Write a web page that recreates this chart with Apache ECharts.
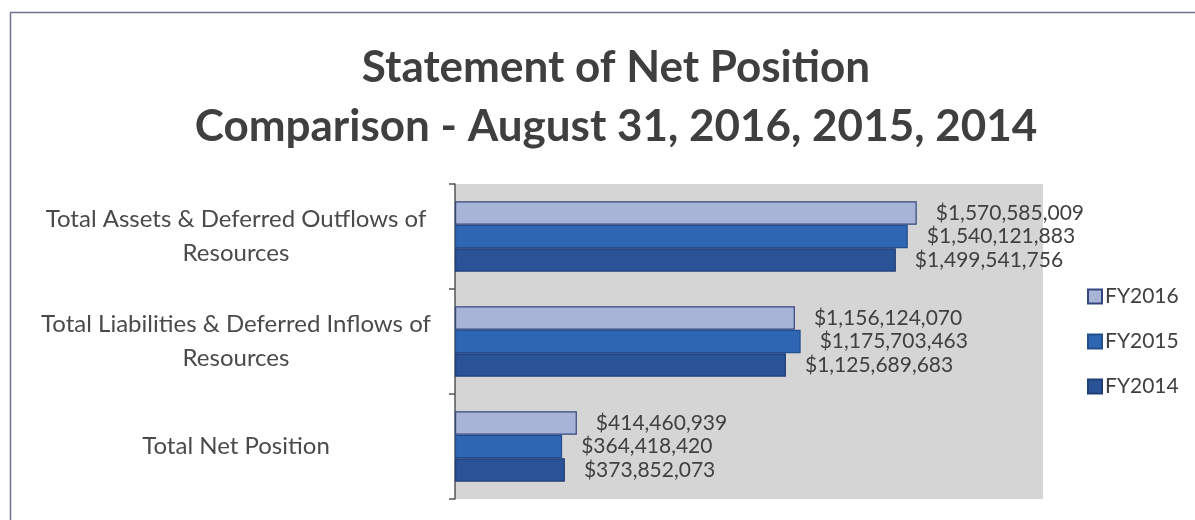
<!DOCTYPE html>
<html>
<head>
<meta charset="utf-8">
<script src="https://cdn.jsdelivr.net/npm/echarts@6/dist/echarts.min.js"></script>
<style>
  html, body { margin: 0; padding: 0; background: #ffffff; }
  #chart { width: 1195px; height: 520px; }
</style>
</head>
<body>
<div id="chart"></div>
<script>
// Statement of Net Position, three fiscal years
const categories = [
  'Total Assets & Deferred Outflows of\nResources',
  'Total Liabilities & Deferred Inflows of\nResources',
  'Total Net Position'
];
const seriesNames = ['FY2016', 'FY2015', 'FY2014'];
const fy2016 = [1570585009, 1156124070, 414460939];
const fy2015 = [1540121883, 1175703463, 364418420];
const fy2014 = [1499541756, 1125689683, 373852073];
const seriesValues = [fy2016, fy2015, fy2014];

const fills = ['#a8b3d8', '#2f66b3', '#2a5296'];
const borders = ['#34467e', '#234f8f', '#1f3f78'];

const font = 'Lato, "Open Sans", sans-serif';
const money = v => '$' + Number(v).toLocaleString('en-US');

const chart = echarts.init(document.getElementById('chart'), null, { renderer: 'canvas' });

chart.setOption({
  animation: false,
  backgroundColor: '#ffffff',
  title: {
    text: 'Statement of Net Position\nComparison - August 31, 2016, 2015, 2014',
    left: 611,
    textAlign: 'center',
    top: 33,
    textStyle: {
      fontFamily: font,
      fontWeight: 'bold',
      fontSize: 44,
      lineHeight: 59,
      color: '#3f3f3f'
    }
  },
  legend: {
    orient: 'vertical',
    left: 1082,
    top: 281,
    itemWidth: 14,
    itemHeight: 14,
    itemGap: 24,
    icon: 'rect',
    data: seriesNames,
    textStyle: { fontFamily: font, fontSize: 21, color: '#404040', padding: [0, 0, 0, -2] }
  },
  grid: {
    left: 455,
    right: 152,
    top: 184,
    bottom: 21,
    show: true,
    backgroundColor: '#d5d5d5',
    borderWidth: 0
  },
  xAxis: {
    type: 'value',
    min: 0,
    max: 2000000000,
    show: false
  },
  yAxis: {
    type: 'category',
    inverse: true,
    data: categories,
    axisLine: { show: true, lineStyle: { color: '#555555', width: 1.5 } },
    axisTick: { show: true, length: 6, lineStyle: { color: '#555555', width: 1.5 } },
    axisLabel: {
      fontFamily: font,
      fontSize: 24,
      lineHeight: 34,
      color: '#4a4a4a',
      align: 'center',
      margin: 219
    }
  },
  series: seriesNames.map((name, i) => ({
    name: name,
    type: 'bar',
    data: seriesValues[i],
    barGap: '0%',
    barCategoryGap: '33%',
    itemStyle: { color: fills[i], borderColor: borders[i], borderWidth: 1.2 },
    label: {
      show: true,
      position: 'right',
      distance: 19,
      fontFamily: font,
      fontSize: 21,
      color: '#404040',
      formatter: p => money(p.value)
    }
  })),
  graphic: [
    {
      type: 'polyline',
      shape: { points: [[10.5, 525], [10.5, 12.5], [1200, 12.5]] },
      style: { stroke: '#6f7591', lineWidth: 1.5, fill: null },
      silent: true
    }
  ]
});
</script>
</body>
</html>
